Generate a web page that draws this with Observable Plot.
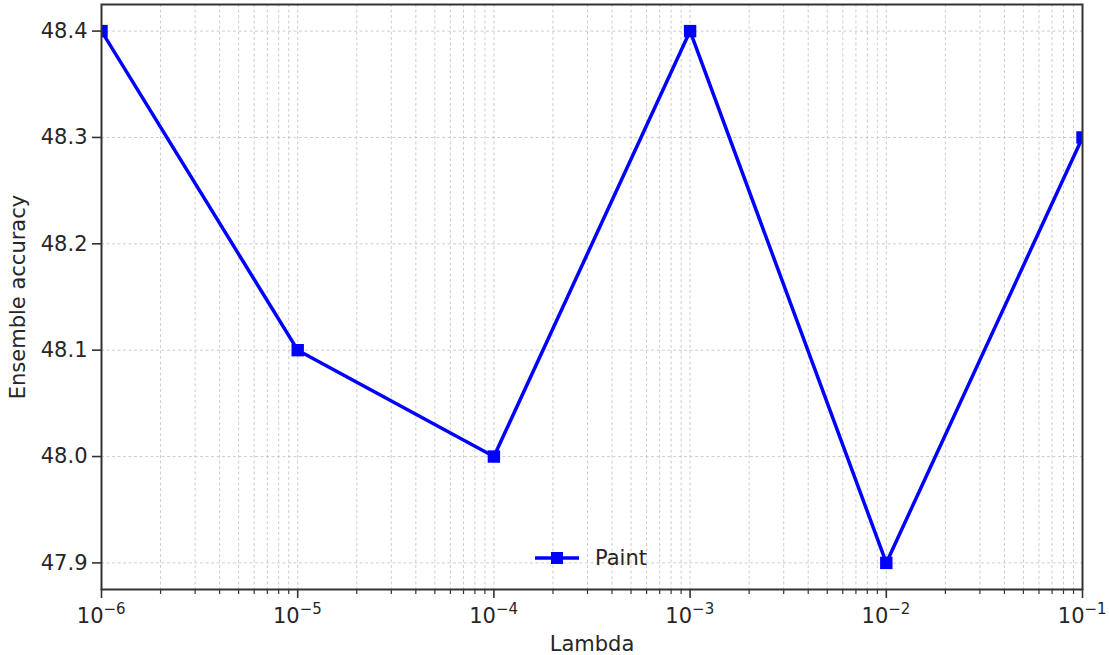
<!DOCTYPE html>
<html>
<head>
<meta charset="utf-8">
<script src="https://cdn.jsdelivr.net/npm/d3@7"></script>
<script src="https://cdn.jsdelivr.net/npm/@observablehq/plot@0.6"></script>
<style>
  html, body { margin: 0; padding: 0; background: #fff; }
  #wrap { position: relative; width: 1109px; height: 655px; }
  #legend { position: absolute; left: 533px; top: 546px; font: 21px "DejaVu Sans", sans-serif; color: #262626; display: flex; align-items: center; }
</style>
</head>
<body>
<div id="wrap"></div>
<script>
const lambdas = [1e-6, 1e-5, 1e-4, 1e-3, 1e-2, 1e-1];
const accuracy = [48.4, 48.1, 48.0, 48.4, 47.9, 48.3];
const exponents = ["−6", "−5", "−4", "−3", "−2", "−1"];
const yTicks = [47.9, 48.0, 48.1, 48.2, 48.3, 48.4];
const seriesName = "Paint";

const data = lambdas.map((x, i) => ({x, y: accuracy[i]}));
const decades = lambdas.map((x, i) => ({x, e: exponents[i]}));
const minor = [];
for (let k = 0; k < lambdas.length - 1; k++) {
  for (let m = 2; m <= 9; m++) minor.push(lambdas[k] * m);
}

const blue = "#0000ff";
const ink = "#262626";

const chart = Plot.plot({
  width: 1109,
  height: 655,
  marginLeft: 101,
  marginRight: 27,
  marginTop: 4,
  marginBottom: 66,
  style: {fontFamily: "DejaVu Sans", fontSize: "21px", color: ink, background: "#fff"},
  x: {type: "log", domain: [1e-6, 1e-1]},
  y: {domain: [47.875, 48.425]},
  marks: [
    Plot.gridX([...lambdas, ...minor], {stroke: "#c8c8c8", strokeOpacity: 1, strokeWidth: 0.9, strokeDasharray: "3,2.5"}),
    Plot.gridY(yTicks, {stroke: "#c8c8c8", strokeOpacity: 1, strokeWidth: 0.9, strokeDasharray: "3,2.5"}),
    Plot.axisY(yTicks, {tickSize: 9, tickPadding: 5, tickFormat: d3.format(".1f"), stroke: "#333", strokeWidth: 1.6, fontSize: 21,
      label: "Ensemble accuracy", labelAnchor: "center", labelArrow: "none", labelOffset: 91, fill: ink}),
    Plot.axisX(lambdas, {tickSize: 9, tickFormat: () => "", stroke: "#333", strokeWidth: 1.6, fontSize: 21,
      label: "Lambda", labelAnchor: "center", labelArrow: "none", labelOffset: 61, fill: ink}),
    Plot.axisX(minor, {tickSize: 5, tickFormat: () => "", stroke: "#333", strokeWidth: 1.2, label: null}),
    Plot.text(decades, {x: "x", frameAnchor: "bottom", text: () => "10", textAnchor: "end", dx: 2, dy: 27, lineAnchor: "middle", fontSize: 21, fill: ink}),
    Plot.text(decades, {x: "x", frameAnchor: "bottom", text: "e", textAnchor: "start", dx: 2, dy: 20, lineAnchor: "middle", fontSize: 15, fill: ink}),
    Plot.line(data, {x: "x", y: "y", stroke: blue, strokeWidth: 3.5, clip: true}),
    Plot.dot(data, {x: "x", y: "y", symbol: "square", r: 7, fill: blue, stroke: "none", clip: true}),
    Plot.frame({stroke: "#333", strokeWidth: 2})
  ]
});

const wrap = document.getElementById("wrap");
wrap.appendChild(chart);

const legend = document.createElement("div");
legend.id = "legend";
legend.innerHTML = `<svg width="48" height="24" style="margin-right:14px"><line x1="2" y1="12" x2="46" y2="12" stroke="${blue}" stroke-width="3.5"/><rect x="18" y="6" width="12" height="12" fill="${blue}"/></svg><span>${seriesName}</span>`;
wrap.appendChild(legend);
</script>
</body>
</html>
